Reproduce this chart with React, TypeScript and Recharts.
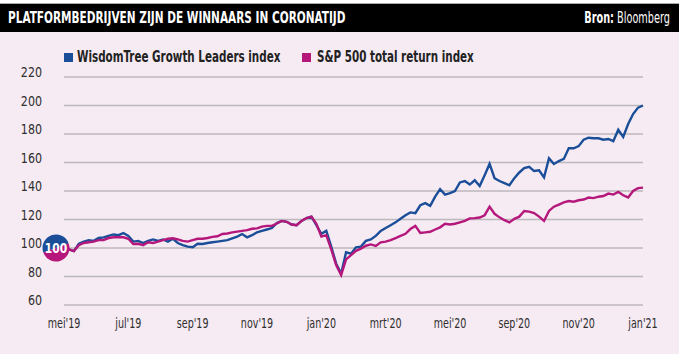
import React from 'react';
import { LineChart, Line, XAxis, YAxis, CartesianGrid, ReferenceDot } from 'recharts';

// month labels as printed on the chart (evenly spaced)
const monthLabels = ["mei'19", "jul'19", "sep'19", "nov'19", "jan'20", "mrt'20", "mei'20", "sep'20", "nov'20", "jan'21"];
const monthTicks = [0, 13, 26, 39, 52, 65, 78, 91, 104, 117];
const yTicks = [60, 80, 100, 120, 140, 160, 180, 200, 220];

const wisdomTree = [
  100, 99, 97.8, 103, 104.5, 105.5, 105, 107, 107.5, 108.5,
  109.5, 109, 110.5, 108.5, 104.5, 105, 103.5, 105, 106, 105,
  106, 104.5, 106.5, 103.5, 102, 101, 100.5, 103, 102.8, 103.5,
  104, 104.5, 105, 105.5, 106.8, 108, 109.8, 107.5, 109, 111,
  112, 113, 114, 117.5, 119, 118.4, 116.5, 116, 119, 121,
  122, 116, 110, 112, 101, 89, 82, 97, 96, 100.5,
  101, 105, 106, 108.5, 112, 114, 116, 118, 120.5, 123,
  125, 124.5, 130, 131.5, 129.6, 136, 141.3, 137.5, 138.5, 140,
  146, 147, 144.5, 147.5, 143.5, 151, 159, 149, 147, 145.5,
  144, 149, 153, 156, 157, 154, 154.5, 149.5, 163, 159,
  161, 162.5, 170, 170, 171.5, 176, 177.4, 177, 177, 176,
  176.5, 175, 183, 178, 187, 194, 198.5, 200,
];

const sp500 = [
  100, 99, 97.8, 102, 103.5, 104, 104.5, 105.5, 105.5, 107,
  107.5, 107.5, 107.5, 106.5, 102.8, 103, 102, 104, 103.5, 104.5,
  105.5, 106.5, 106.8, 106, 105, 104.5, 105.5, 106.5, 106.5, 107,
  107.8, 108.2, 109.8, 110.2, 111, 111.5, 112, 112.5, 113.5, 113.8,
  115, 115.5, 115.5, 117.2, 119, 118.4, 116.5, 116, 119, 121,
  122, 117, 108, 109, 99, 88, 81, 92, 95, 98,
  99.5, 101.6, 102.5, 101.5, 104, 104.5, 105.5, 107, 108.5, 110,
  113.3, 115.5, 110.5, 111, 111.4, 113, 114.5, 117, 116.5, 117,
  118, 119, 120.8, 121, 121.4, 123, 129, 124, 121.5, 119.5,
  118, 120.5, 122, 126, 125.5, 124.5, 122, 119, 126, 129,
  130.5, 132, 133, 132.5, 133.5, 134, 135.4, 135, 136, 136.5,
  138.2, 137.5, 139.4, 137, 135.5, 140, 142, 142.4,
];

const data = wisdomTree.map((v, i) => ({ i, wt: v, sp: sp500[i] }));

const FONT = '"DejaVu Sans Condensed", "Liberation Sans Narrow", "Roboto", sans-serif';
const BLUE = '#1b4e98';
const PINK = '#b5177b';
const BG = '#f6eaf3';
const TEXT = '#2e2e2e';

const YTick = (props: any) => {
  const { y, payload } = props;
  return (
    <text transform={`translate(42,${y}) scale(0.88,1)`} textAnchor="end" fontSize={14} fill={TEXT} fontFamily={FONT}>
      {payload.value}
    </text>
  );
};

const XTick = (props: any) => {
  const { x, payload } = props;
  const idx = monthTicks.indexOf(payload.value);
  return (
    <text transform={`translate(${x},328) scale(0.76,1)`} textAnchor="middle" fontSize={14} fill={TEXT} fontFamily={FONT}>
      {idx >= 0 ? monthLabels[idx] : ''}
    </text>
  );
};

// the "100" start badge, half blue, half pink
const Badge = (props: any) => {
  const { cx, cy } = props;
  if (cx == null || cy == null) return null;
  const r = 13.5;
  const c = cx - 8;
  const a = (20 * Math.PI) / 180;
  const rx = c + r * Math.cos(a);
  const ry = cy - r * Math.sin(a);
  const lx = c - r * Math.cos(a);
  const ly = cy + r * Math.sin(a);
  return (
    <g>
      <path d={`M${lx},${ly} A${r},${r} 0 0 1 ${rx},${ry} Z`} fill={BLUE} />
      <path d={`M${rx},${ry} A${r},${r} 0 0 1 ${lx},${ly} Z`} fill={PINK} />
      <text transform={`translate(${c},${cy + 5}) scale(0.85,1)`} textAnchor="middle" fontSize={14} fontWeight="bold" fill="#fff" fontFamily={FONT}>
        100
      </text>
    </g>
  );
};

const Squeezed = ({ left, right, top, scale, style, children }: any) => (
  <div
    style={{
      position: 'absolute',
      left,
      right,
      top,
      whiteSpace: 'nowrap',
      transform: `scaleX(${scale})`,
      transformOrigin: right != null ? 'right top' : 'left top',
      ...style,
    }}
  >
    {children}
  </div>
);

export default function App() {
  return (
    <div style={{ position: 'absolute', left: 0, top: 0, width: 679, height: 354, background: BG, fontFamily: FONT, overflow: 'hidden' }}>
      <div style={{ position: 'absolute', left: 0, top: 0, width: 679, height: 3, background: '#ffffff', borderBottom: '1px solid #a9a9a9' }} />
      <div style={{ position: 'absolute', left: 0, top: 4, width: 679, height: 28, background: '#000' }}>
        <Squeezed left={8} top={5} scale={0.78} style={{ color: '#fff', fontWeight: 'bold', fontSize: 15, lineHeight: '18px' }}>
          PLATFORMBEDRIJVEN ZIJN DE WINNAARS IN CORONATIJD
        </Squeezed>
        <Squeezed right={9} top={5} scale={0.72} style={{ color: '#fff', fontSize: 15, lineHeight: '18px' }}>
          <span style={{ fontWeight: 'bold' }}>Bron:</span> Bloomberg
        </Squeezed>
      </div>
      <div style={{ position: 'absolute', left: 64, top: 53, width: 9, height: 9, background: BLUE }} />
      <Squeezed left={77} top={48} scale={0.72} style={{ fontSize: 16, fontWeight: 'bold', color: '#222', lineHeight: '18px' }}>
        WisdomTree Growth Leaders index
      </Squeezed>
      <div style={{ position: 'absolute', left: 302, top: 53, width: 9, height: 9, background: PINK }} />
      <Squeezed left={317} top={48} scale={0.72} style={{ fontSize: 16, fontWeight: 'bold', color: '#222', lineHeight: '18px' }}>
        S&amp;P 500 total return index
      </Squeezed>
      <div style={{ position: 'absolute', left: 0, top: 0 }}>
        <LineChart width={679} height={354} data={data} margin={{ top: 77, right: 36, bottom: 19, left: 0 }}>
          <CartesianGrid vertical={false} stroke="#bdb8bc" strokeWidth={1.5} />
          <XAxis
            dataKey="i"
            type="number"
            domain={[0, 117]}
            ticks={monthTicks}
            axisLine={false}
            tickLine={false}
            height={30}
            tick={<XTick />}
            interval={0}
          />
          <YAxis
            type="number"
            domain={[60, 220]}
            ticks={yTicks}
            axisLine={false}
            tickLine={false}
            width={64}
            tick={<YTick />}
            interval={0}
          />
          <Line type="linear" dataKey="wt" stroke={BLUE} strokeWidth={2.4} dot={false} isAnimationActive={false} />
          <Line type="linear" dataKey="sp" stroke={PINK} strokeWidth={2.4} dot={false} isAnimationActive={false} />
          <ReferenceDot x={0} y={100} r={13} shape={<Badge />} ifOverflow="visible" />
        </LineChart>
      </div>
    </div>
  );
}
